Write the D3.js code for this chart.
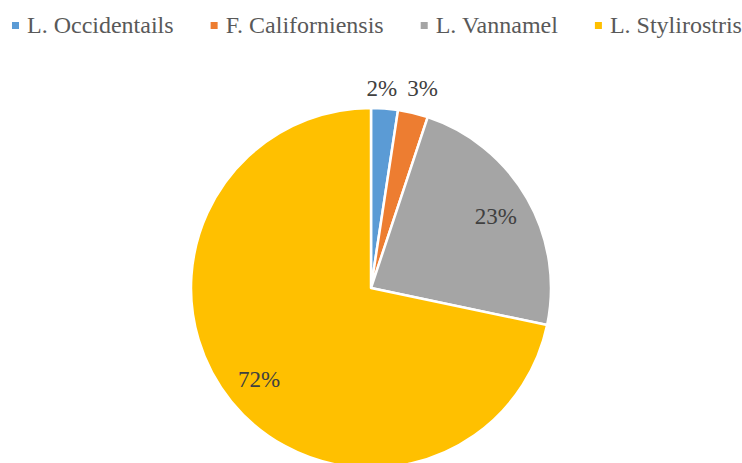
<!DOCTYPE html>
<html>
<head>
<meta charset="utf-8">
<script src="https://cdn.jsdelivr.net/npm/d3@7"></script>
<style>
    body { margin: 0; background: #fff; }
</style>
</head>
<body>
<div id="chart"></div>
<script>
"use strict";

const species = ["L. Occidentails", "F. Californiensis", "L. Vannamel", "L. Stylirostris"];
const shares = [2.4, 2.7, 23.2, 71.7];
const labels = ["2%", "3%", "23%", "72%"];
const colors = ["#5b9bd5", "#ed7d31", "#a5a5a5", "#ffc000"];

const width = 742;
const height = 463;
const center = { x: 371, y: 288 };
const radius = 180;
const serif = "Liberation Serif";

const svg = d3.select("#chart").append("svg")
              .attr("width", width)
              .attr("height", height)
              .attr("font-family", serif);

const pie = d3.pie().sort(null).value(d => d.value);
const slices = pie(species.map((name, i) => ({ name, value: shares[i], label: labels[i] })));

const arc = d3.arc().innerRadius(0).outerRadius(radius);
const insideArc = d3.arc().innerRadius(radius * 0.8).outerRadius(radius * 0.8);
const outsideArc = d3.arc().innerRadius(radius * 1.12).outerRadius(radius * 1.12);

const plot = svg.append("g")
                .attr("transform", `translate(${center.x}, ${center.y})`);

plot.selectAll("path")
    .data(slices)
    .enter()
    .append("path")
    .attr("d", arc)
    .attr("fill", (d, i) => colors[i])
    .attr("stroke", "#fff")
    .attr("stroke-width", 2.5)
    .attr("stroke-linejoin", "round");

// small slices get their label outside, as Excel's best fit does
const pct = plot.selectAll("text.pct")
    .data(slices)
    .enter()
    .append("text")
    .attr("class", "pct")
    .attr("text-anchor", "middle")
    .attr("dy", "0.35em")
    .attr("fill", "#404040")
    .attr("font-family", serif)
    .attr("font-size", 23)
    .text(d => d.data.label);

const spots = [];
pct.each(function (d) {
    const small = d.data.value < 5;
    const [x, y] = small ? outsideArc.centroid(d) : insideArc.centroid(d);
    spots.push({ x, y: small ? -radius - 20 : y, small, w: this.getComputedTextLength() });
});
// push the outside labels apart so they do not overlap
for (let i = 1; i < spots.length; i++) {
    const a = spots[i - 1], b = spots[i];
    if (!a.small || !b.small) continue;
    const need = (a.w + b.w) / 2 + 10;
    if (b.x - a.x < need) {
        const mid = (a.x + b.x) / 2;
        a.x = mid - need / 2;
        b.x = mid + need / 2;
    }
}
pct.attr("transform", (d, i) => `translate(${spots[i].x}, ${spots[i].y})`);

// legend, laid out left to right from the left margin
const legend = svg.append("g").attr("transform", "translate(12, 25)");
const items = legend.selectAll("g.item")
                    .data(species)
                    .enter()
                    .append("g")
                    .attr("class", "item");
items.append("rect")
     .attr("width", 7)
     .attr("height", 7)
     .attr("y", -3)
     .attr("fill", (d, i) => colors[i]);
items.append("text")
     .attr("x", 15)
     .attr("dy", "0.35em")
     .attr("fill", "#595959")
     .attr("font-family", serif)
     .attr("font-size", 24)
     .text(d => d);

const gap = 37;
let cursor = 0;
const offsets = [];
items.each(function () {
    offsets.push(cursor);
    cursor += 15 + this.querySelector("text").getComputedTextLength() + gap;
});
items.attr("transform", (d, i) => `translate(${offsets[i]}, 0)`);
</script>
</body>
</html>
